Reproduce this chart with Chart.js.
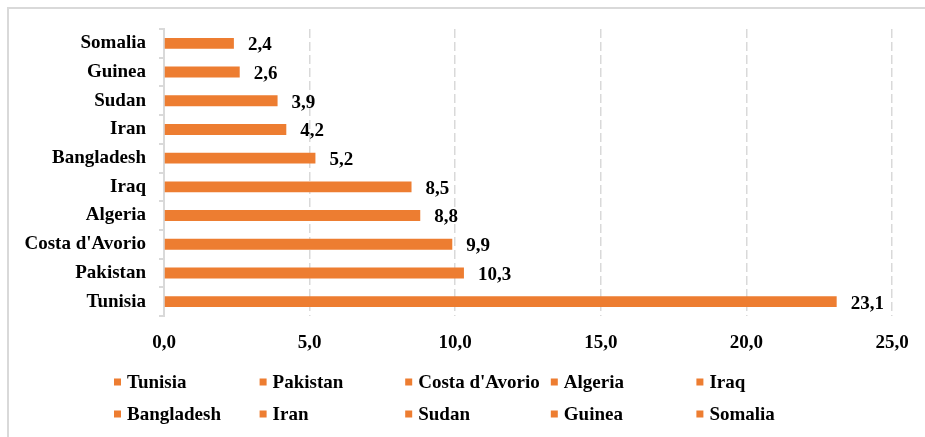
<!DOCTYPE html>
<html>
<head>
<meta charset="utf-8">
<script src="https://cdn.jsdelivr.net/npm/chart.js@4/dist/chart.umd.min.js"></script>
<style>
  html, body { margin: 0; padding: 0; background: #fff; }
  #wrap { width: 925px; height: 437px; position: relative; }
</style>
</head>
<body>
<div id="wrap"><canvas id="c" width="925" height="437"></canvas></div>
<script>
// Countries, listed top to bottom as they appear on the axis
const countries = ['Somalia', 'Guinea', 'Sudan', 'Iran', 'Bangladesh', 'Iraq', 'Algeria', "Costa d'Avorio", 'Pakistan', 'Tunisia'];
// Percentage share for each country
const shares = [2.4, 2.6, 3.9, 4.2, 5.2, 8.5, 8.8, 9.9, 10.3, 23.1];
// Legend order (read left to right, row by row)
const legendOrder = ['Tunisia', 'Pakistan', "Costa d'Avorio", 'Algeria', 'Iraq', 'Bangladesh', 'Iran', 'Sudan', 'Guinea', 'Somalia'];
// Value axis ticks
const axisMin = 0, axisMax = 25, axisStep = 5;

const BAR = '#ED7D31';
const GRID = '#d9d9d9';
const FONT = { family: '"Liberation Serif", "Times New Roman", serif', size: 19, weight: 'bold' };
const fontStr = `bold ${FONT.size}px ${FONT.family}`;
const fmt = v => v.toFixed(1).replace('.', ',');

// Light frame around the chart
const framePlugin = {
  id: 'frame',
  beforeDraw(chart) {
    const c = chart.ctx;
    c.save();
    c.fillStyle = '#fff';
    c.fillRect(0, 0, chart.width, chart.height);
    c.strokeStyle = '#d9d9d9';
    c.lineWidth = 2;
    c.strokeRect(8, 8, chart.width + 20, chart.height + 20);
    c.restore();
  }
};

// Value labels at the end of each bar
const valueLabels = {
  id: 'valueLabels',
  afterDatasetsDraw(chart) {
    const c = chart.ctx;
    const meta = chart.getDatasetMeta(0);
    c.save();
    c.font = fontStr;
    c.fillStyle = '#000';
    c.textAlign = 'left';
    c.textBaseline = 'middle';
    meta.data.forEach((bar, i) => {
      c.fillText(fmt(chart.data.datasets[0].data[i]), bar.x + 14, bar.y + 2);
    });
    c.restore();
  }
};

// Legend laid out on a fixed five-column grid below the axis
const gridLegend = {
  id: 'gridLegend',
  afterDraw(chart) {
    const c = chart.ctx;
    const area = chart.chartArea;
    const colW = (area.right - area.left) / 5;
    const x0 = area.left - 50;
    const rows = [383, 415];
    c.save();
    c.font = fontStr;
    c.textAlign = 'left';
    c.textBaseline = 'middle';
    legendOrder.forEach((name, k) => {
      const col = k % 5, row = Math.floor(k / 5);
      const x = x0 + col * colW;
      const y = rows[row];
      c.fillStyle = BAR;
      c.fillRect(x, y - 4.5, 7, 7);
      c.fillStyle = '#000';
      c.fillText(name, x + 13, y);
    });
    c.restore();
  }
};

new Chart(document.getElementById('c'), {
  type: 'bar',
  data: {
    labels: countries,
    datasets: [{
      data: shares,
      backgroundColor: BAR,
      borderWidth: 0,
      barPercentage: 0.38,
      categoryPercentage: 1
    }]
  },
  options: {
    indexAxis: 'y',
    responsive: false,
    animation: false,
    devicePixelRatio: 1,
    layout: { padding: { left: 0, top: 29, right: 33, bottom: 0 } },
    plugins: { legend: { display: false }, tooltip: { enabled: false } },
    scales: {
      x: {
        min: axisMin, max: axisMax,
        afterFit(scale) { scale.height = 121; },
        ticks: { stepSize: axisStep, callback: v => fmt(v), color: '#000', font: FONT, padding: 16 },
        grid: {
          color: ctx => (ctx.tick && ctx.tick.value === 0) ? 'rgba(0,0,0,0)' : GRID,
          lineWidth: 1.5,
          drawTicks: false
        },
        border: { display: false, dash: [9, 4] }
      },
      y: {
        afterFit(scale) { scale.width = 164; },
        ticks: { color: '#000', font: FONT, padding: 13 },
        grid: { drawOnChartArea: false, drawTicks: true, tickLength: 5, color: GRID, lineWidth: 2, offset: true },
        border: { display: true, color: GRID, width: 2 }
      }
    }
  },
  plugins: [framePlugin, valueLabels, gridLegend]
});
</script>
</body>
</html>
